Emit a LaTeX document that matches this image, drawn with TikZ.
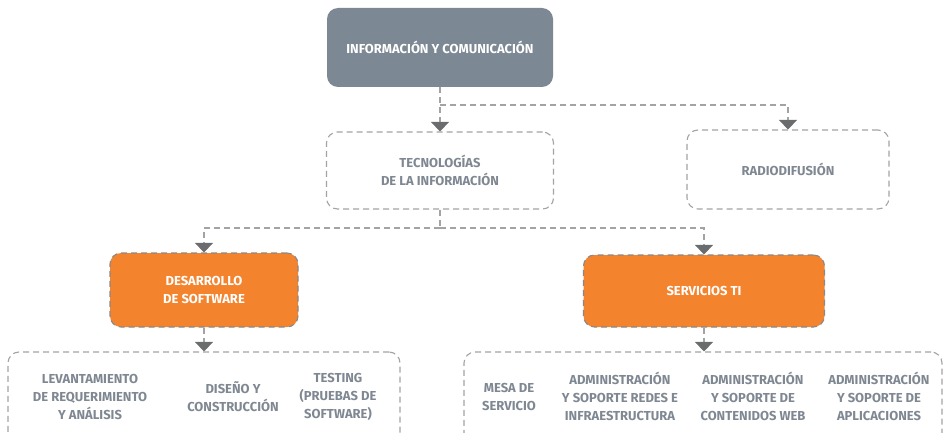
\documentclass[tikz,border=0pt]{standalone}
\usepackage{fontspec}
\setmainfont{Fira Sans}
\usetikzlibrary{arrows.meta}
\definecolor{boxgray}{HTML}{7C8893}
\definecolor{txtgray}{HTML}{7F8892}
\definecolor{linegray}{HTML}{A3A3A3}
\definecolor{tipgray}{HTML}{6B6C6E}
\definecolor{orangebox}{HTML}{F3832D}
\tikzset{
  base/.style={rounded corners=11pt, align=center, font=\bfseries\fontsize{13}{18}\selectfont, inner sep=0pt},
  darkbox/.style={base, fill=boxgray, text=white},
  outbox/.style={base, draw=linegray, dash pattern=on 6pt off 4pt, line width=1.1pt, text=txtgray},
  orbox/.style={base, fill=orangebox, draw=tipgray!80, dash pattern=on 6pt off 4pt, line width=1.1pt, text=white},
  lbl/.style={align=center, font=\bfseries\fontsize{13}{18}\selectfont, text=txtgray, inner sep=0pt},
  conn/.style={draw=linegray, line width=1.1pt, dash pattern=on 6pt off 4pt},
  arr/.style={conn, -{Triangle[width=18pt,length=9.5pt,color=tipgray]}}
}
\begin{document}
\begin{tikzpicture}[x=1pt,y=-1pt]
\useasboundingbox (0,0) rectangle (943,433);
\clip (0,0) rectangle (943,433);
\node[darkbox, minimum width=226pt, minimum height=79pt] (top) at (440,47.5) {INFORMACIÓN Y COMUNICACIÓN};
\node[outbox, minimum width=227pt, minimum height=77pt] (tec) at (440,170.5) {TECNOLOGÍAS\\DE LA INFORMACIÓN};
\node[outbox, minimum width=202pt, minimum height=79pt] (rad) at (788,169.5) {RADIODIFUSIÓN};
\node[orbox, minimum width=188pt, minimum height=74pt] (des) at (204,290) {DESARROLLO\\DE SOFTWARE};
\node[orbox, minimum width=241pt, minimum height=72pt] (ser) at (704,291) {SERVICIOS TI};
\node[outbox, minimum width=392pt, minimum height=96pt] (bl) at (204,400) {};
\node[outbox, minimum width=478pt, minimum height=96pt] (br) at (703,400) {};
% labels
\node[lbl] (l1) at (90,396.5) {LEVANTAMIENTO\\DE REQUERIMIENTO\\Y ANÁLISIS};
\node[lbl] (l2) at (233,396.5) {DISEÑO Y\\CONSTRUCCIÓN};
\node[lbl] (l3) at (338,396.5) {TESTING\\(PRUEBAS DE\\SOFTWARE)};
\node[lbl] (r1) at (509,396.5) {MESA DE\\SERVICIO};
\node[lbl] (r2) at (620,396.5) {ADMINISTRACIÓN\\Y SOPORTE REDES E\\INFRAESTRUCTURA};
\node[lbl] (r3) at (753,396.5) {ADMINISTRACIÓN\\Y SOPORTE DE\\CONTENIDOS WEB};
\node[lbl] (r4) at (879,396.5) {ADMINISTRACIÓN\\Y SOPORTE DE\\APLICACIONES};
% connectors
\coordinate (j1) at (440,105);
\coordinate (j2) at (440,228);
\draw[arr] (top.south) -- (tec.north);
\draw[arr] (j1) -| (rad.north);
\draw[conn] (tec.south) -- (j2);
\draw[arr] (j2) -| (des.north);
\draw[arr] (j2) -| (ser.north);
\draw[arr] (des.south) -- (des.south |- bl.north);
\draw[arr] (ser.south) -- (ser.south |- br.north);
\end{tikzpicture}
\end{document}
